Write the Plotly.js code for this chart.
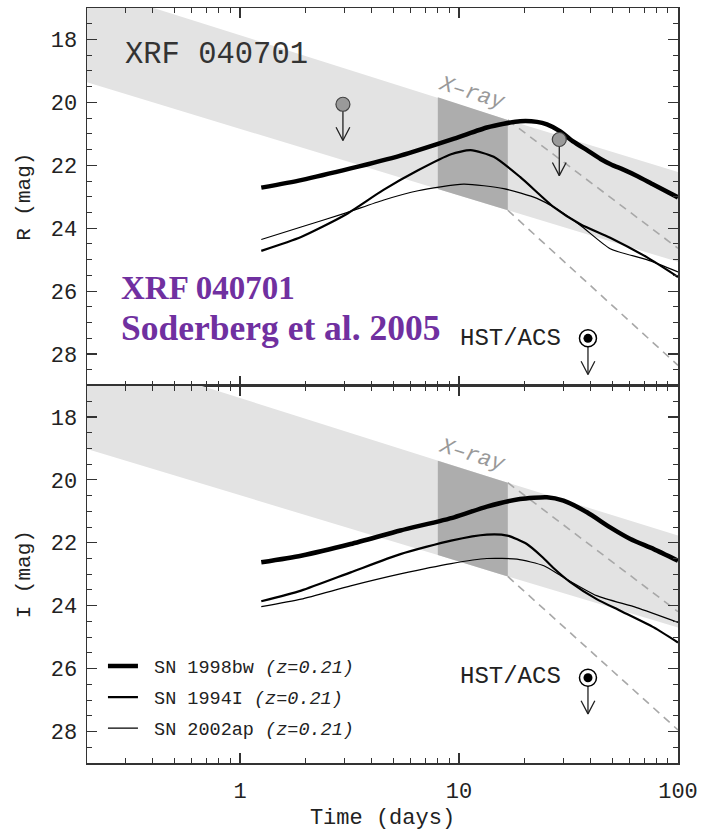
<!DOCTYPE html>
<html>
<head>
<meta charset="utf-8">
<script src="https://cdn.plot.ly/plotly-3.0.1.min.js"></script>
<style>html,body{margin:0;padding:0;background:#fff;}#plot{width:702px;height:831px;}</style>
</head>
<body>
<div id="plot"></div>
<script>
// ---------- data ----------
// X-ray afterglow band (bright edge / faint edge), days
const bandDays = [0.2, 8, 16.7, 100];
const bandR_bright = [16.33, 19.84, 20.56, 22.21];
const bandR_faint  = [19.36, 22.75, 23.43, 25.07];
const bandI_bright = [15.86, 19.39, 20.09, 21.77];
const bandI_faint  = [19.02, 22.39, 23.07, 24.69];
// X-ray observed window (darker part of the band)
const xrayStart = 8, xrayEnd = 16.7;
// steeper extrapolations after the X-ray window
const extrapDays = [16.7, 100];
const extrapR_bright = [20.56, 24.64];
const extrapR_faint  = [23.43, 28.36];
const extrapI_bright = [20.09, 24.19];
const extrapI_faint  = [23.07, 27.95];

// SN light curves at z=0.21, R band
const bwR_days = [1.25, 1.9, 3.2, 5.4, 9.5, 13.4, 16, 19, 22.7, 25.2, 29, 33.3, 38.4, 44.3, 50, 56, 65, 77.5, 100];
const bwR_mag  = [22.71, 22.47, 22.10, 21.69, 21.15, 20.80, 20.68, 20.60, 20.62, 20.70, 20.92, 21.25, 21.52, 21.80, 21.99, 22.13, 22.34, 22.62, 23.02];
const i94R_days = [1.25, 1.9, 3.0, 4.5, 6.5, 9.2, 11.3, 14.4, 19, 27, 36, 49, 72, 100];
const i94R_mag  = [24.72, 24.28, 23.59, 22.79, 22.16, 21.65, 21.52, 21.73, 22.37, 23.32, 23.88, 24.30, 24.92, 25.55];
const ap02R_days = [1.25, 1.9, 3.0, 4.5, 6.5, 10.5, 16, 22.7, 27.5, 36, 49, 72, 100];
const ap02R_mag  = [24.36, 23.96, 23.53, 23.11, 22.81, 22.60, 22.74, 23.05, 23.36, 23.92, 24.65, 25.00, 25.39];
// I band
const bwI_days = [1.25, 1.9, 3.2, 5.4, 9.5, 13.4, 19, 25.2, 30, 38.4, 49, 60.6, 77.5, 100];
const bwI_mag  = [22.62, 22.41, 22.04, 21.61, 21.19, 20.85, 20.61, 20.55, 20.66, 21.03, 21.51, 21.88, 22.20, 22.57];
const i94I_days = [1.25, 1.9, 3.2, 5.4, 9.2, 13.4, 16.6, 20.4, 24, 27, 32.2, 42.5, 54.5, 77.5, 100];
const i94I_mag  = [23.86, 23.52, 22.94, 22.36, 21.93, 21.74, 21.77, 22.04, 22.45, 22.80, 23.25, 23.79, 24.16, 24.69, 25.17];
const ap02I_days = [1.25, 1.9, 3.2, 5.4, 9.2, 13.4, 18.4, 24.4, 30, 42.5, 64.7, 100];
const ap02I_mag  = [24.03, 23.79, 23.37, 22.99, 22.66, 22.50, 22.52, 22.73, 23.10, 23.68, 24.06, 24.53];

// upper limits
const limR_days = [2.95, 28.7];
const limR_mag  = [20.06, 21.18];
const hstR_days = [38.8];
const hstR_mag  = [27.5];
const hstI_days = [38.8];
const hstI_mag  = [26.29];

const seriesNames = ['SN 1998bw', 'SN 1994I', 'SN 2002ap'];
const redshiftLabel = '(z=0.21)';
const xTickVals = [1, 10, 100];
const yTickVals = [18, 20, 22, 24, 26, 28];

// ---------- helpers ----------
const MONO = '"Liberation Mono", "DejaVu Sans Mono", monospace';
function interpLog(xs, ys, x) {
  const lx = Math.log10(x);
  for (let i = 0; i < xs.length - 1; i++) {
    const a = Math.log10(xs[i]), b = Math.log10(xs[i + 1]);
    if (lx >= a && lx <= b) return ys[i] + (ys[i + 1] - ys[i]) * (lx - a) / (b - a);
  }
  return ys[ys.length - 1];
}
function bandTrace(days, bright, faint, color, xa, ya) {
  return {x: days.concat(days.slice().reverse()), y: bright.concat(faint.slice().reverse()),
    xaxis: xa, yaxis: ya, mode: 'lines', fill: 'toself', fillcolor: color,
    line: {width: 0, color: color}, hoverinfo: 'skip', showlegend: false};
}
function windowTrace(bright, faint, xa, ya) {
  const d = [xrayStart, xrayEnd];
  const b = d.map(t => interpLog(bandDays, bright, t));
  const f = d.map(t => interpLog(bandDays, faint, t));
  return bandTrace(d, b, f, '#adadad', xa, ya);
}
function dashTrace(days, mags, xa, ya) {
  return {x: days, y: mags, xaxis: xa, yaxis: ya, mode: 'lines',
    line: {color: '#a8a8a8', width: 1.6, dash: '8px,6px'}, hoverinfo: 'skip', showlegend: false};
}
function curve(days, mags, w, name, xa, ya, show) {
  return {x: days, y: mags, xaxis: xa, yaxis: ya, mode: 'lines', name: name,
    legendgroup: name, showlegend: show,
    line: {color: '#000', width: w, shape: 'spline', smoothing: 0.6}, hoverinfo: 'skip'};
}
function arrows(days, mags, xa, ya) {
  const len = 1.15, head = 0.42, f = 1.075;
  const x = [], y = [];
  days.forEach((t, i) => {
    const tip = mags[i] + len;
    x.push(t, t, null, t / f, t, t * f, null);
    y.push(mags[i], tip, null, tip - head, tip, tip - head, null);
  });
  return {x: x, y: y, xaxis: xa, yaxis: ya, mode: 'lines', line: {color: '#222', width: 1.3},
    hoverinfo: 'skip', showlegend: false};
}
function grayLimits(days, mags, xa, ya) {
  return {x: days, y: mags, xaxis: xa, yaxis: ya, mode: 'markers',
    marker: {size: 14, color: '#9a9a9a', line: {color: '#444', width: 1.2}}, hoverinfo: 'skip', showlegend: false};
}
function hstMarkers(days, mags, xa, ya) {
  return [
    {x: days, y: mags, xaxis: xa, yaxis: ya, mode: 'markers',
      marker: {size: 17, color: '#fff', line: {color: '#000', width: 1.5}}, hoverinfo: 'skip', showlegend: false},
    {x: days, y: mags, xaxis: xa, yaxis: ya, mode: 'markers',
      marker: {size: 9, color: '#000', line: {width: 0}}, hoverinfo: 'skip', showlegend: false}
  ];
}

const widths = [4.5, 2.2, 1.2];
const NB = '\u00a0';
const legendNames = seriesNames.map(n => NB + n + ' <i>' + redshiftLabel + '</i>');

const traces = [
  bandTrace(bandDays, bandR_bright, bandR_faint, '#e3e3e3', 'x', 'y'),
  windowTrace(bandR_bright, bandR_faint, 'x', 'y'),
  dashTrace(extrapDays, extrapR_bright, 'x', 'y'),
  dashTrace(extrapDays, extrapR_faint, 'x', 'y'),
  bandTrace(bandDays, bandI_bright, bandI_faint, '#e3e3e3', 'x2', 'y2'),
  windowTrace(bandI_bright, bandI_faint, 'x2', 'y2'),
  dashTrace(extrapDays, extrapI_bright, 'x2', 'y2'),
  dashTrace(extrapDays, extrapI_faint, 'x2', 'y2'),
  curve(bwR_days, bwR_mag, widths[0], legendNames[0], 'x', 'y', false),
  curve(i94R_days, i94R_mag, widths[1], legendNames[1], 'x', 'y', false),
  curve(ap02R_days, ap02R_mag, widths[2], legendNames[2], 'x', 'y', false),
  curve(bwI_days, bwI_mag, widths[0], legendNames[0], 'x2', 'y2', true),
  curve(i94I_days, i94I_mag, widths[1], legendNames[1], 'x2', 'y2', true),
  curve(ap02I_days, ap02I_mag, widths[2], legendNames[2], 'x2', 'y2', true),
  arrows(limR_days, limR_mag, 'x', 'y'),
  grayLimits(limR_days, limR_mag, 'x', 'y'),
  arrows(hstR_days, hstR_mag, 'x', 'y'),
  ...hstMarkers(hstR_days, hstR_mag, 'x', 'y'),
  arrows(hstI_days, hstI_mag, 'x2', 'y2'),
  ...hstMarkers(hstI_days, hstI_mag, 'x2', 'y2')
];

// axis ticks
const xMinor = [];
[0.1, 1, 10].forEach(d => { for (let k = 2; k <= 9; k++) xMinor.push(k * d); });
const yMinor = [];
for (let v = 17; v <= 29; v += 0.5) if (yTickVals.indexOf(v) < 0) yMinor.push(v);

const axBase = {
  showline: true, linecolor: '#333', linewidth: 1.5, mirror: 'ticks',
  ticks: 'inside', ticklen: 10, tickwidth: 1.2, tickcolor: '#333',
  showgrid: false, zeroline: false,
  tickfont: {family: MONO, size: 22, color: '#222'}
};
const xBase = Object.assign({}, axBase, {
  type: 'log', range: [Math.log10(0.2), 2], tickmode: 'array', tickvals: xTickVals,
  ticktext: xTickVals.map(String),
  minor: {tickmode: 'array', tickvals: xMinor, ticks: 'inside', ticklen: 5, tickwidth: 1, tickcolor: '#333', showgrid: false}
});
const yBase = Object.assign({}, axBase, {
  range: [29, 17], tickmode: 'array', tickvals: yTickVals, ticktext: yTickVals.map(String),
  ticklabelstandoff: 4,
  minor: {tickmode: 'array', tickvals: yMinor, ticks: 'inside', ticklen: 5, tickwidth: 1, tickcolor: '#333', showgrid: false}
});

const layout = {
  width: 702, height: 831,
  margin: {l: 87, r: 24, t: 8, b: 68},
  paper_bgcolor: '#fff', plot_bgcolor: '#fff',
  font: {family: MONO, color: '#222'},
  showlegend: true,
  legend: {x: 0.027, y: 0.153, xanchor: 'left', yanchor: 'top', bgcolor: 'rgba(0,0,0,0)',
    font: {family: MONO, size: 18.5, color: '#222'}, itemwidth: 30, tracegroupgap: 4,
    traceorder: 'grouped'},
  xaxis: Object.assign({}, xBase, {anchor: 'y', domain: [0, 1], showticklabels: false}),
  xaxis2: Object.assign({}, xBase, {anchor: 'y2', domain: [0, 1], ticklabelstandoff: 7,
    title: {text: 'Time (days)', font: {family: MONO, size: 22, color: '#222'}, standoff: 6}}),
  yaxis: Object.assign({}, yBase, {anchor: 'x', domain: [0.5, 1],
    title: {text: 'R (mag)', font: {family: MONO, size: 21, color: '#222'}, standoff: 14}}),
  yaxis2: Object.assign({}, yBase, {anchor: 'x2', domain: [0, 0.5],
    title: {text: 'I (mag)', font: {family: MONO, size: 21, color: '#222'}, standoff: 14}}),
  annotations: [
    {xref: 'paper', yref: 'paper', x: 0.061, y: 0.9377, xanchor: 'left', yanchor: 'middle', showarrow: false,
      text: 'XRF 040701', font: {family: MONO, size: 30.5, color: '#333'}},
    {xref: 'paper', yref: 'paper', x: 0.054, y: 0.629, xanchor: 'left', yanchor: 'middle', showarrow: false,
      text: '<b>XRF 040701</b>', font: {family: '"Liberation Serif", "DejaVu Serif", serif', size: 33, color: '#7030a0'}},
    {xref: 'paper', yref: 'paper', x: 0.054, y: 0.576, xanchor: 'left', yanchor: 'middle', showarrow: false,
      text: '<b>Soderberg et al. 2005</b>', font: {family: '"Liberation Serif", "DejaVu Serif", serif', size: 35.5, color: '#7030a0'}},
    {xref: 'paper', yref: 'paper', x: 0.806, y: 0.5629, xanchor: 'right', yanchor: 'middle', showarrow: false,
      text: 'HST/ACS', font: {family: MONO, size: 24, color: '#222'}},
    {xref: 'paper', yref: 'paper', x: 0.806, y: 0.1143, xanchor: 'right', yanchor: 'middle', showarrow: false,
      text: 'HST/ACS', font: {family: MONO, size: 24, color: '#222'}},
    {xref: 'paper', yref: 'paper', x: 0.6514, y: 0.8874, xanchor: 'center', yanchor: 'middle', showarrow: false,
      textangle: 17, text: '<i>X\u2013ray</i>', font: {family: MONO, size: 22, color: '#999'}},
    {xref: 'paper', yref: 'paper', x: 0.6514, y: 0.407, xanchor: 'center', yanchor: 'middle', showarrow: false,
      textangle: 17, text: '<i>X\u2013ray</i>', font: {family: MONO, size: 22, color: '#999'}}
  ]
};

Plotly.newPlot('plot', traces, layout, {displayModeBar: false, staticPlot: true});
</script>
</body>
</html>
